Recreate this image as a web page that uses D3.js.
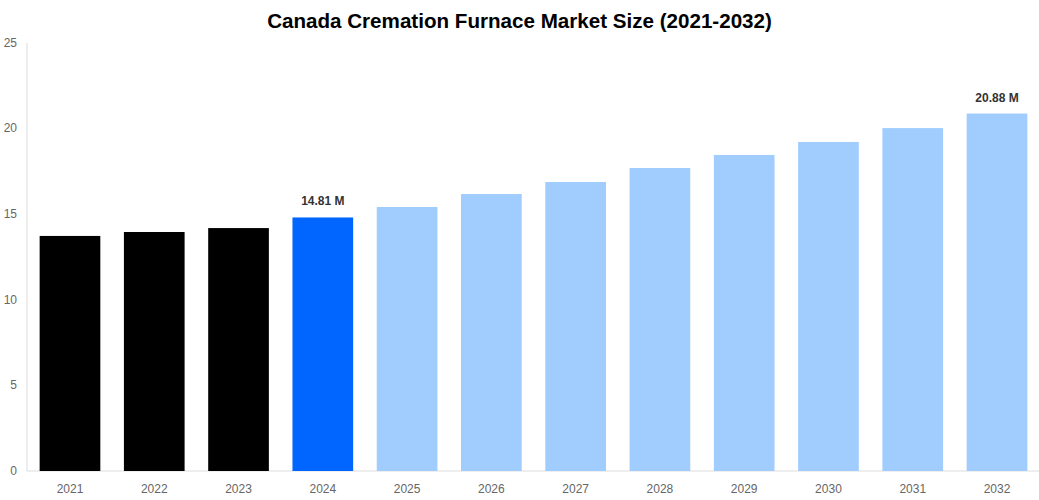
<!DOCTYPE html>
<html lang="en">
<head>
<meta charset="utf-8">
<title>Canada Cremation Furnace Market Size</title>
<script src="https://d3js.org/d3.v7.min.js"></script>
<style>
  body { margin: 0; background: #fff; font-family: "Liberation Sans", Arial, sans-serif; }
</style>
</head>
<body>
<div id="chart"></div>
<script>
// data
var years = ["2021","2022","2023","2024","2025","2026","2027","2028","2029","2030","2031","2032"];
var values = [13.73, 13.96, 14.19, 14.81, 15.42, 16.18, 16.88, 17.70, 18.46, 19.22, 20.03, 20.88];
var yTicks = [0, 5, 10, 15, 20, 25];
var labelled = ["2024", "2032"];

var W = 1039, H = 500;
var margin = {top: 43, right: 0, bottom: 29, left: 27};
var width = W - margin.left - margin.right,
    height = H - margin.top - margin.bottom;

var svg = d3.select("#chart").append("svg")
    .attr("width", W)
    .attr("height", H);

svg.append("text")
    .attr("x", W / 2)
    .attr("y", 28)
    .attr("text-anchor", "middle")
    .style("font-size", "20.6px")
    .style("font-weight", "bold")
    .style("fill", "#000")
    .text("Canada Cremation Furnace Market Size (2021-2032)");

var g = svg.append("g")
    .attr("transform", "translate(" + margin.left + "," + margin.top + ")");

var x = d3.scaleBand()
    .domain(years)
    .range([0, width + 1])
    .paddingInner(0.28)
    .paddingOuter(0.15);

var y = d3.scaleLinear()
    .domain([0, 25])
    .range([height, 0]);

function barColor(yr) {
  if (+yr < 2024) return "#000000";
  if (+yr === 2024) return "#0066ff";
  return "#a0cdfe";
}

// axes lines
g.append("line")
    .attr("x1", 0).attr("x2", 0)
    .attr("y1", 0).attr("y2", height)
    .style("stroke", "#ddd");
g.append("line")
    .attr("x1", 0).attr("x2", width)
    .attr("y1", height).attr("y2", height)
    .style("stroke", "#ddd");

// y tick labels
g.selectAll(".ytick")
  .data(yTicks)
  .enter().append("text")
    .attr("x", -10)
    .attr("y", function(d) { return y(d); })
    .attr("dy", "0.32em")
    .attr("text-anchor", "end")
    .style("font-size", "12px")
    .style("fill", "#666")
    .text(function(d) { return d; });

// bars
g.selectAll(".bar")
  .data(years)
  .enter().append("rect")
    .attr("x", function(d) { return x(d); })
    .attr("y", function(d, i) { return y(values[i]); })
    .attr("width", x.bandwidth())
    .attr("height", function(d, i) { return height - y(values[i]); })
    .style("fill", function(d) { return barColor(d); });

// x tick labels
g.selectAll(".xtick")
  .data(years)
  .enter().append("text")
    .attr("x", function(d) { return x(d) + x.bandwidth() / 2; })
    .attr("y", height + 22)
    .attr("text-anchor", "middle")
    .style("font-size", "12px")
    .style("fill", "#666")
    .text(function(d) { return d; });

// value labels
g.selectAll(".vlabel")
  .data(years.filter(function(d) { return labelled.indexOf(d) >= 0; }))
  .enter().append("text")
    .attr("x", function(d) { return x(d) + x.bandwidth() / 2; })
    .attr("y", function(d) { return y(values[years.indexOf(d)]) - 12; })
    .attr("text-anchor", "middle")
    .style("font-size", "12px")
    .style("font-weight", "bold")
    .style("fill", "#333")
    .text(function(d) { return values[years.indexOf(d)].toFixed(2) + " M"; });
</script>
</body>
</html>
